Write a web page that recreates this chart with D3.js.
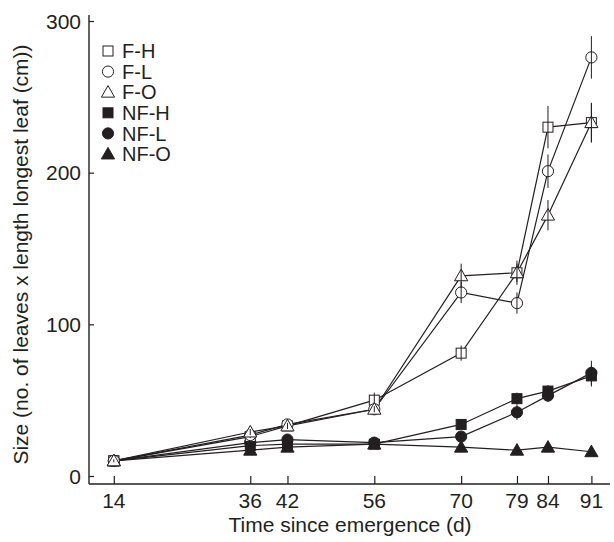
<!DOCTYPE html>
<html>
<head>
<meta charset="utf-8">
<script src="https://cdn.jsdelivr.net/npm/d3@7/dist/d3.min.js"></script>
<style>
  html, body { margin: 0; padding: 0; background: #fff; }
  svg { display: block; font-family: "Liberation Sans", Arial, Helvetica, sans-serif; }
</style>
</head>
<body>
<svg id="chart" width="614" height="542"></svg>
<script>
// ---- data ----
const days = [14, 36, 42, 56, 70, 79, 84, 91];
const seriesNames = ["F-H", "F-L", "F-O", "NF-H", "NF-L", "NF-O"];
const symbols = ["square", "circle", "triangle", "square", "circle", "triangle"];
const filled = [false, false, false, true, true, true];

const valuesFH  = [10, 26, 33, 50, 81, 134, 230, 233];
const valuesFL  = [10, 27, 34, 44, 121, 114, 201, 276];
const valuesFO  = [10, 29, 33, 44, 132, 134, 172, 233];
const valuesNFH = [10, 20, 21, 21, 34, 51, 56, 66];
const valuesNFL = [10, 22, 24, 22, 26, 42, 53, 68];
const valuesNFO = [10, 17, 19, 21, 19, 17, 19, 16];

const errFH  = [1, 2, 2, 5, 5, 8, 14, 13];
const errFL  = [1, 2, 2, 2, 7, 7, 11, 14];
const errFO  = [1, 2, 2, 2, 8, 6, 10, 13];
const errNFH = [1, 2, 2, 2, 2, 4, 4, 7];
const errNFL = [1, 2, 2, 2, 2, 5, 4, 8];
const errNFO = [1, 1, 1, 1, 1, 1, 1, 1];

const yTicks = [0, 100, 200, 300];
const xLabel = "Time since emergence (d)";
const yLabel = "Size (no. of leaves x length longest leaf (cm))";

const allValues = [valuesFH, valuesFL, valuesFO, valuesNFH, valuesNFL, valuesNFO];
const allErr = [errFH, errFL, errFO, errNFH, errNFL, errNFO];

// ---- layout ----
const ink = "#231f20";
const svg = d3.select("#chart");
const x = d3.scaleLinear().domain([10, 94]).range([89, 610]);
const y = d3.scaleLinear().domain([0, 300]).range([476, 21]);
const axisY = 484;
const axisTop = 15;

// axes lines
svg.append("line").attr("x1", x.range()[0]).attr("x2", x.range()[0])
  .attr("y1", axisTop).attr("y2", axisY).attr("stroke", ink).attr("stroke-width", 1.4);
svg.append("line").attr("x1", x.range()[0]).attr("x2", x.range()[1])
  .attr("y1", axisY).attr("y2", axisY).attr("stroke", ink).attr("stroke-width", 1.4);

// y axis (ticks inward)
const yAxis = d3.axisRight(y).tickValues(yTicks).tickSize(5).tickFormat("");
const yg = svg.append("g").attr("transform", `translate(${x.range()[0]},0)`).call(yAxis);
yg.select(".domain").remove();
yg.selectAll("line").attr("stroke", ink).attr("stroke-width", 1.2);
svg.append("g").selectAll("text").data(yTicks).join("text")
  .attr("x", x.range()[0] - 8).attr("y", d => y(d)).attr("dy", "0.36em")
  .attr("text-anchor", "end").attr("font-size", 21).attr("fill", ink).text(d => d);

// x axis (ticks inward)
const xAxis = d3.axisTop(x).tickValues(days).tickSize(8).tickFormat("");
const xg = svg.append("g").attr("transform", `translate(0,${axisY})`).call(xAxis);
xg.select(".domain").remove();
xg.selectAll("line").attr("stroke", ink).attr("stroke-width", 1.2);
svg.append("g").selectAll("text").data(days).join("text")
  .attr("x", d => x(d)).attr("y", axisY + 24)
  .attr("text-anchor", "middle").attr("font-size", 21).attr("fill", ink).text(d => d);

// axis titles
svg.append("text").attr("x", 350).attr("y", 532)
  .attr("text-anchor", "middle").attr("font-size", 21).attr("fill", ink).text(xLabel);
svg.append("text").attr("transform", `translate(28,${(y(0) + y(300)) / 2 + 6}) rotate(-90)`)
  .attr("text-anchor", "middle").attr("font-size", 21).attr("fill", ink).text(yLabel);

// symbol generator
function drawMarker(g, type, isFilled, cx, cy) {
  const fill = isFilled ? ink : "#fff";
  if (type === "square") {
    g.append("rect").attr("x", cx - 5).attr("y", cy - 5).attr("width", 10).attr("height", 10)
      .attr("fill", fill).attr("stroke", ink).attr("stroke-width", 1);
  } else if (type === "circle") {
    g.append("circle").attr("cx", cx).attr("cy", cy).attr("r", 5.6)
      .attr("fill", fill).attr("stroke", ink).attr("stroke-width", 1);
  } else {
    const s = 6.6;
    g.append("path").attr("d", `M${cx},${cy - s}L${cx + s},${cy + s * 0.75}L${cx - s},${cy + s * 0.75}Z`)
      .attr("fill", fill).attr("stroke", ink).attr("stroke-width", 1);
  }
}

const line = d3.line().x(d => x(d.day)).y(d => y(d.v));
const plot = svg.append("g");

// lines
allValues.forEach((vals, i) => {
  const pts = days.map((d, j) => ({ day: d, v: vals[j] }));
  plot.append("path").datum(pts).attr("d", line)
    .attr("fill", "none").attr("stroke", ink).attr("stroke-width", 1.2);
});

// markers and error bars (open series drawn last)
const order = [3, 4, 5, 0, 1, 2];
order.forEach(i => {
  const g = plot.append("g");
  days.forEach((d, j) => {
    drawMarker(g, symbols[i], filled[i], x(d), y(allValues[i][j]));
  });
  days.forEach((d, j) => {
    g.append("line").attr("x1", x(d)).attr("x2", x(d))
      .attr("y1", y(allValues[i][j] - allErr[i][j])).attr("y2", y(allValues[i][j] + allErr[i][j]))
      .attr("stroke", ink).attr("stroke-width", 1);
  });
});

// legend
const legend = svg.append("g");
seriesNames.forEach((name, i) => {
  const ly = 51 + i * 20.6;
  drawMarker(legend, symbols[i], filled[i], 108, ly);
  legend.append("text").attr("x", 122).attr("y", ly).attr("dy", "0.36em")
    .attr("font-size", 20).attr("fill", ink).text(name);
});
</script>
</body>
</html>
